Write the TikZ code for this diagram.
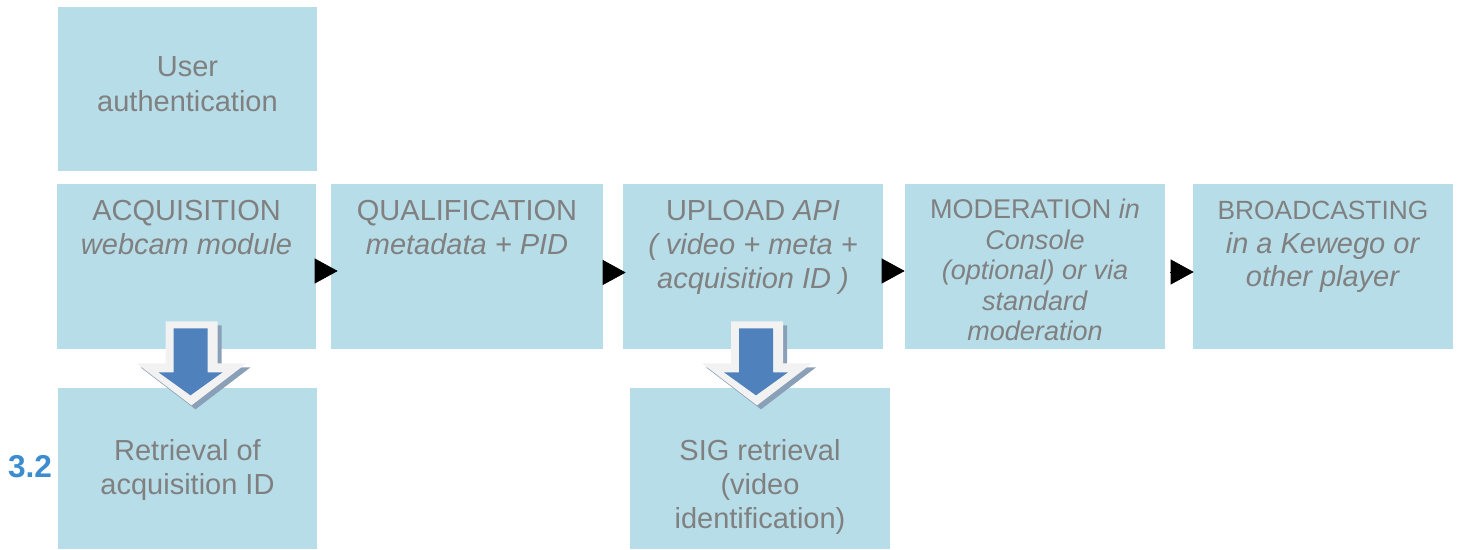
\documentclass[tikz,border=0pt]{standalone}
\usepackage{fontspec}
\setmainfont{Liberation Sans}
\usetikzlibrary{positioning,arrows.meta}

\definecolor{boxblue}{HTML}{B7DDE8}
\definecolor{textgray}{HTML}{808080}
\definecolor{arrowblue}{HTML}{4F81BD}
\definecolor{arrowrim}{HTML}{F2F2F2}
\definecolor{arrowshade}{HTML}{8A9FB8}
\definecolor{numblue}{HTML}{3C8DD0}

\begin{document}
\begin{tikzpicture}[
  x=0.02cm, y=-0.02cm,
  box/.style={fill=boxblue, minimum width=5.2cm, minimum height=3.3cm, inner sep=0},
  boxtext/.style={anchor=north, align=center, text=textgray, inner sep=0,
    font=\fontsize{16.5}{19.4}\selectfont},
  smalltext/.style={boxtext, font=\fontsize{15.4}{17.4}\selectfont},
  widetext/.style={boxtext, font=\fontsize{16.5}{19.2}\selectfont},
  flow/.style={draw=black, -{Triangle[length=0.46cm, width=0.5cm]}}
]
\useasboundingbox (0,0) rectangle (1458,550);

% Boxes
\node[box, minimum height=3.28cm] (auth) at (187.5,89) {};
\node[box] (acq) at (186.5,266.5) {};
\node[box, minimum width=5.44cm] (qual) at (467,266.5) {};
\node[box] (upload) at (753,266.5) {};
\node[box] (moder) at (1035,266.5) {};
\node[box] (broad) at (1323,266.5) {};
\node[box, minimum height=3.22cm] (retr) at (187.5,468.5) {};
\node[box, minimum height=3.22cm] (sig) at (760,468.5) {};

% Texts
\node[boxtext, below=1.0cm of auth.north] (authtext) {User\\authentication};
\node[boxtext, below=0.32cm of acq.north] (acqtext) {ACQUISITION\\\textit{webcam module}};
\node[boxtext, below=0.32cm of qual.north] (qualtext) {QUALIFICATION\\\textit{metadata + PID}};
\node[boxtext, below=0.32cm of upload.north] (uploadtext)
  {UPLOAD \textit{API}\\\textit{( video + meta +}\\\textit{acquisition ID )}};
\node[smalltext, below=0.3cm of moder.north] (modertext)
  {MODERATION \textit{in}\\\textit{Console}\\\textit{(optional) or via}\\\textit{standard}\\\textit{moderation}};
\node[widetext, below=0.34cm of broad.north] (broadtext)
  {{\fontsize{15}{19.2}\selectfont BROADCASTING}\\\textit{in a Kewego or}\\\textit{other player}};
\node[boxtext, below=1.02cm of retr.north] (retrtext) {Retrieval of\\acquisition ID};
\node[boxtext, below=1.02cm of sig.north] (sigtext) {SIG retrieval\\(video\\identification)};

\node[text=numblue, font=\fontsize{18}{20}\selectfont\bfseries, left=-0.02cm of retr.west, yshift=0.03cm] (num) {3.2};

% Flow arrows
\draw[flow, shorten >=-0.14cm] ([yshift=-0.09cm]acq.east) -- ([yshift=-0.09cm]qual.west);
\draw[flow, shorten >=-0.06cm] ([yshift=-0.12cm]qual.east) -- ([yshift=-0.12cm]upload.west);
\draw[flow] ([yshift=-0.09cm]upload.east) -- ([yshift=-0.09cm]moder.west);
\draw[flow, shorten <=0.1cm, shorten >=-0.02cm] ([yshift=-0.11cm]moder.east) -- ([yshift=-0.11cm]broad.west);

% Down arrows
\foreach \src/\dx in {acq/5, upload/4} {
  \begin{scope}[shift={(\src.south)}, xshift=\dx*0.02cm]
    \fill[arrowshade] (-22,-24) -- (30,-24) -- (30,18) -- (59,18) -- (4,60) -- (-51,18) -- (-22,18) -- cycle;
    \fill[arrowrim] (-26,-28) -- (26,-28) -- (26,14) -- (55,14) -- (0,56) -- (-55,14) -- (-26,14) -- cycle;
    \fill[arrowblue] (-18,-21) -- (16,-21) -- (16,23) -- (31,23) -- (-1,46) -- (-33,23) -- (-18,23) -- cycle;
  \end{scope}
}

\end{tikzpicture}
\end{document}
